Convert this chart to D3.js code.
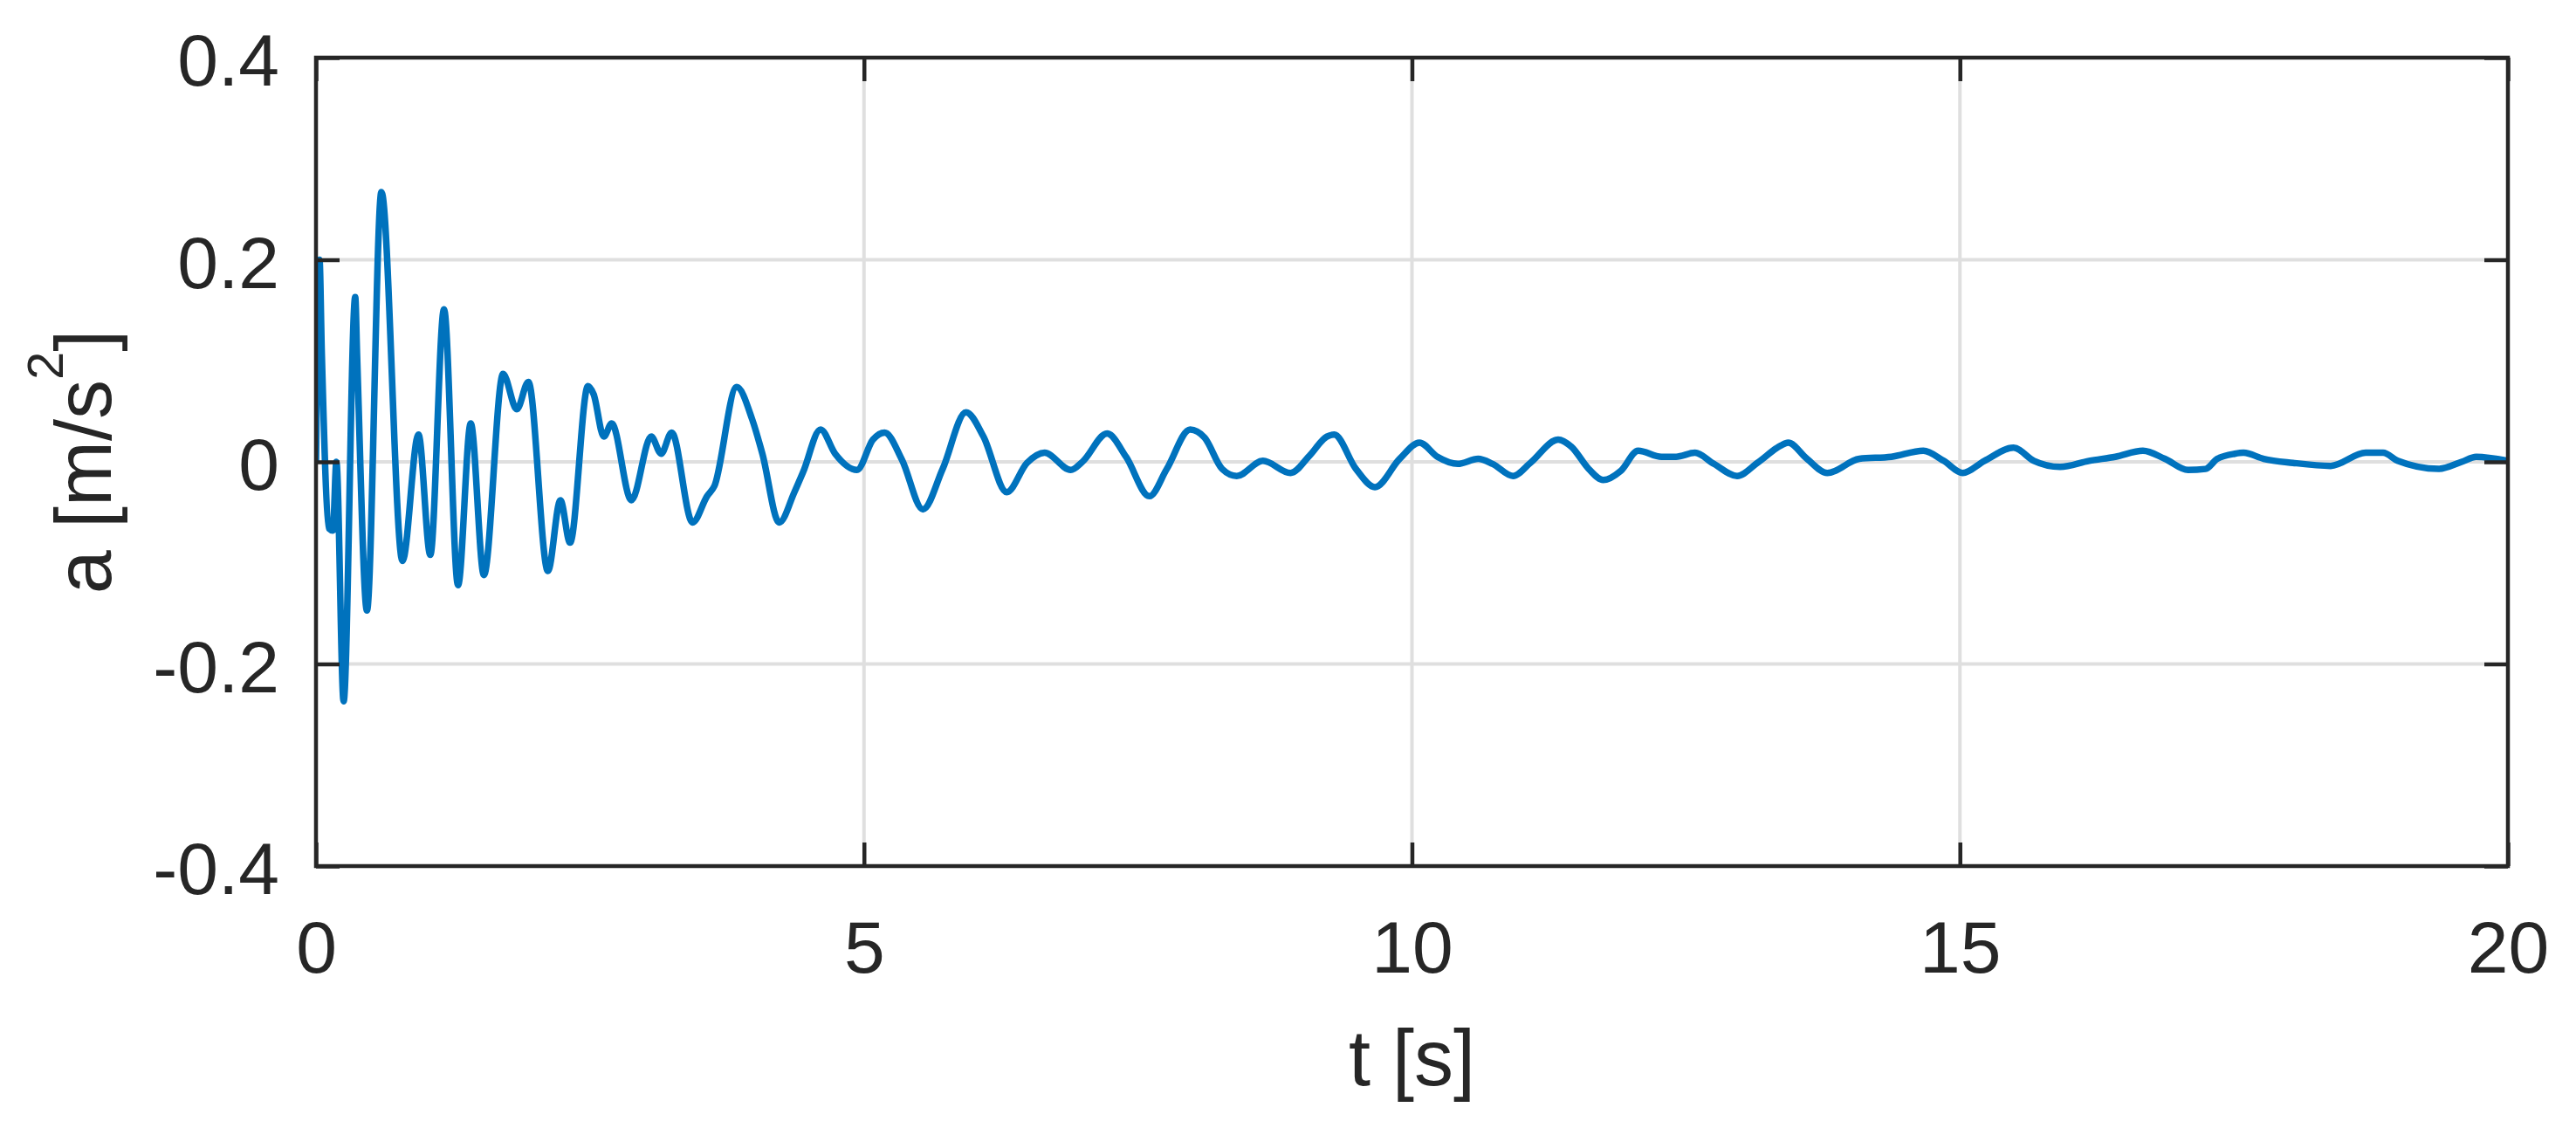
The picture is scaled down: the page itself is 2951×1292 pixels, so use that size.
<!DOCTYPE html>
<html>
<head>
<meta charset="utf-8">
<script src="https://d3js.org/d3.v7.min.js"></script>
<style>
	body { margin: 0; background: #fff; }
	text { font-family: "Liberation Sans", Arial, Helvetica, sans-serif; fill: #262626; }
</style>
</head>
<body>
<div id="chart-area"></div>
<script>
// values
let timeValues = [
	0, 0.032, 0.053, 0.119, 0.154, 0.186, 0.252, 0.358, 0.375, 0.465,
	0.597, 0.789, 0.935, 1.043, 1.168, 1.296, 1.412, 1.532, 1.707, 1.832,
	1.938, 2.116, 2.230, 2.318, 2.482, 2.533, 2.626, 2.698, 2.878, 3.059,
	3.149, 3.245, 3.436, 3.568, 3.635, 3.839, 3.980, 4.073, 4.227, 4.365,
	4.445, 4.604, 4.737, 4.936, 5.082, 5.188, 5.347, 5.538, 5.718, 5.931,
	6.090, 6.303, 6.488, 6.648, 6.887, 6.993, 7.219, 7.391, 7.604, 7.763,
	7.976, 8.108, 8.268, 8.401, 8.640, 8.892, 9.064, 9.223, 9.290, 9.489,
	9.662, 9.888, 10.068, 10.233, 10.418, 10.604, 10.736, 10.922, 11.081, 11.334,
	11.454, 11.613, 11.746, 11.905, 12.064, 12.277, 12.410, 12.582, 12.755, 12.967,
	13.152, 13.365, 13.432, 13.604, 13.790, 14.082, 14.374, 14.666, 14.852, 15.025,
	15.224, 15.489, 15.675, 15.914, 16.179, 16.418, 16.670, 16.870, 17.082, 17.241,
	17.348, 17.507, 17.587, 17.772, 18.038, 18.383, 18.702, 18.861, 18.994, 19.366,
	19.578, 19.711, 20.0
];
let accelValues = [
	0.000, 0.200, 0.107, -0.066, -0.068, 0.000, -0.237, 0.163, 0.105, -0.147,
	0.267, -0.098, 0.027, -0.092, 0.151, -0.122, 0.038, -0.112, 0.087, 0.052,
	0.079, -0.108, -0.038, -0.080, 0.075, 0.067, 0.025, 0.038, -0.038, 0.025,
	0.008, 0.029, -0.060, -0.034, -0.024, 0.074, 0.042, 0.008, -0.060, -0.030,
	-0.010, 0.032, 0.008, -0.008, 0.022, 0.029, 0.002, -0.047, -0.007, 0.049,
	0.025, -0.030, -0.001, 0.009, -0.008, 0.000, 0.028, 0.005, -0.034, -0.007,
	0.032, 0.024, -0.007, -0.014, 0.001, -0.011, 0.006, 0.025, 0.027, -0.007,
	-0.025, 0.003, 0.019, 0.005, -0.002, 0.003, -0.002, -0.014, -0.001, 0.022,
	0.015, -0.007, -0.018, -0.009, 0.011, 0.005, 0.005, 0.009, -0.002, -0.014,
	-0.001, 0.016, 0.019, 0.003, -0.011, 0.003, 0.005, 0.011, 0.001, -0.011,
	0.001, 0.014, 0.001, -0.005, 0.001, 0.005, 0.011, 0.003, -0.008, -0.007,
	0.003, 0.008, 0.009, 0.003, -0.001, -0.004, 0.009, 0.009, 0.001, -0.007,
	0.000, 0.005, 0.001
];
let xTicks = [0, 5, 10, 15, 20];
let yTicks = [-0.4, -0.2, 0, 0.2, 0.4];
let yTickLabels = ["-0.4", "-0.2", "0", "0.2", "0.4"];

let margin = { top: 66, right: 78, bottom: 300, left: 362 },
	width = 2951 - margin.left - margin.right,
	height = 1292 - margin.top - margin.bottom;

let ink = "#262626",
	tickLen = 27;

let svg = d3.select("#chart-area").append("svg")
	.attr("width", width + margin.left + margin.right)
	.attr("height", height + margin.top + margin.bottom);

let group = svg.append("g")
	.attr("transform", "translate(" + margin.left + "," + margin.top + ")");

let x = d3.scaleLinear().domain([0, 20]).range([0, width]);
let y = d3.scaleLinear().domain([-0.4, 0.4]).range([height, 0]);

let data = timeValues.map((t, i) => ({ t: t, a: accelValues[i] }));

// grid
group.append("g").selectAll("line").data(xTicks).enter().append("line")
	.attr("x1", d => x(d)).attr("x2", d => x(d))
	.attr("y1", 0).attr("y2", height)
	.attr("stroke", "#dfdfdf").attr("stroke-width", 4);
group.append("g").selectAll("line").data(yTicks).enter().append("line")
	.attr("x1", 0).attr("x2", width)
	.attr("y1", d => y(d)).attr("y2", d => y(d))
	.attr("stroke", "#dfdfdf").attr("stroke-width", 4);

// signal
group.append("clipPath").attr("id", "plot-clip")
	.append("rect").attr("width", width).attr("height", height);

let line = d3.line()
	.x(d => x(d.t))
	.y(d => y(d.a))
	.curve(d3.curveMonotoneX);

group.append("path")
	.datum(data)
	.attr("clip-path", "url(#plot-clip)")
	.attr("fill", "none")
	.attr("stroke", "#0072BD")
	.attr("stroke-width", 7.5)
	.attr("stroke-linejoin", "round")
	.attr("d", line);

// axes, ticks pointing inward on all four sides
let axisBottom = d3.axisBottom(x).tickValues(xTicks).tickSizeInner(-tickLen).tickSizeOuter(0).tickPadding(62);
let axisTop = d3.axisTop(x).tickValues(xTicks).tickSizeInner(-tickLen).tickSizeOuter(0).tickFormat("");
let axisLeft = d3.axisLeft(y).tickValues(yTicks).tickSizeInner(-tickLen).tickSizeOuter(0).tickPadding(42)
	.tickFormat((d, i) => yTickLabels[i]);
let axisRight = d3.axisRight(y).tickValues(yTicks).tickSizeInner(-tickLen).tickSizeOuter(0).tickFormat("");

let gB = group.append("g").attr("transform", "translate(0," + height + ")").call(axisBottom);
let gT = group.append("g").call(axisTop);
let gL = group.append("g").call(axisLeft);
let gR = group.append("g").attr("transform", "translate(" + width + ",0)").call(axisRight);

[gB, gT, gL, gR].forEach(g => {
	g.select(".domain").remove();
	g.selectAll(".tick line").attr("stroke", ink).attr("stroke-width", 4.5);
	g.selectAll("text").attr("font-size", "84px").attr("fill", ink)
		.attr("font-family", "'Liberation Sans', Arial, Helvetica, sans-serif");
});
gL.selectAll("text").attr("dy", "0.38em");

// box
group.append("rect")
	.attr("width", width).attr("height", height)
	.attr("fill", "none")
	.attr("stroke", ink)
	.attr("stroke-width", 4.5);

// axis labels
group.append("text")
	.attr("x", width / 2)
	.attr("y", 1243 - margin.top)
	.attr("font-size", "90px")
	.attr("text-anchor", "middle")
	.text("t [s]");

let yLabel = group.append("text")
	.attr("x", -height / 2)
	.attr("y", 127 - margin.left)
	.attr("font-size", "90px")
	.attr("text-anchor", "middle")
	.attr("transform", "rotate(-90)");
yLabel.append("tspan").text("a [m/s");
yLabel.append("tspan").attr("font-size", "58px").attr("dy", -55).text("2");
yLabel.append("tspan").attr("dy", 55).text("]");
</script>
</body>
</html>
